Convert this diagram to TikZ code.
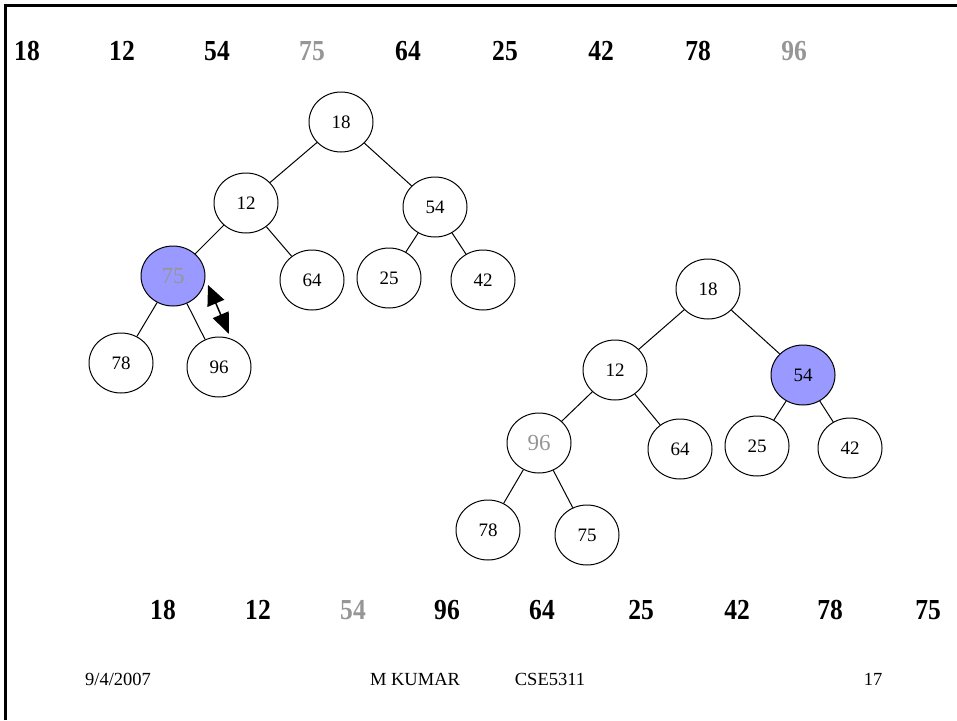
\documentclass[tikz,border=0pt]{standalone}
\usepackage{fontspec}
\setmainfont{Liberation Serif}
\newfontfamily\cellfont[FakeStretch=0.88]{Liberation Serif}
\usetikzlibrary{shapes.geometric,arrows.meta}

\definecolor{heapblue}{RGB}{153,153,255}
\definecolor{movedgray}{RGB}{150,150,150}

\tikzset{
  key/.style={ellipse, draw, line width=1pt, minimum width=64pt, minimum height=60pt,
    inner sep=0pt, font=\fontsize{19}{19}\selectfont},
  moved/.style={text=movedgray, font=\fontsize{23}{23}\selectfont},
  hot/.style={fill=heapblue},
  cell/.style={anchor=base, font=\fontsize{29}{29}\cellfont\bfseries},
  foot/.style={anchor=base, font=\fontsize{18.5}{18.5}\selectfont}
}

\begin{document}
\begin{tikzpicture}[x=1pt, y=-1pt, line width=1pt]
  \useasboundingbox (0,0) rectangle (957,720);
  \draw[line width=3pt] (5.5,720) -- (5.5,5.5) -- (957,5.5);

  % array before the swap
  \node[cell] (a1) at (27,60) {18};
  \node[cell] (a2) at (122,60) {12};
  \node[cell] (a3) at (217,60) {54};
  \node[cell, text=movedgray] (a4) at (312,60) {75};
  \node[cell] (a5) at (408,60) {64};
  \node[cell] (a6) at (505,60) {25};
  \node[cell] (a7) at (601,60) {42};
  \node[cell] (a8) at (698,60) {78};
  \node[cell, text=movedgray] (a9) at (794,60) {96};

  % first tree
  \node[key] (t18) at (341,122) {18};
  \node[key] (t12) at (246,203) {12};
  \node[key] (t54) at (435,207) {54};
  \node[key, hot, moved] (t75) at (173,276) {75};
  \node[key] (t64) at (312,280) {64};
  \node[key] (t25) at (389,278) {25};
  \node[key] (t42) at (483,280) {42};
  \node[key] (t78) at (121,363) {78};
  \node[key] (t96) at (219,367) {96};
  \path
  (t18) edge (t12)
        edge (t54)
  (t12) edge (t75)
        edge (t64)
  (t54) edge (t25)
        edge (t42)
  (t75) edge (t78)
        edge (t96);

  \coordinate (swapup) at (208,285);
  \coordinate (swapdn) at (229,334);
  \draw[line width=1.5pt, {Triangle[length=20pt,width=18pt]}-{Triangle[length=21pt,width=17pt]}]
    (swapup) -- (swapdn);

  % second tree
  \node[key] (u18) at (708,289) {18};
  \node[key] (u12) at (615,370) {12};
  \node[key, hot] (u54) at (803,375) {54};
  \node[key, moved] (u96) at (539,443) {96};
  \node[key] (u64) at (680,449) {64};
  \node[key] (u25) at (757,446) {25};
  \node[key] (u42) at (850,448) {42};
  \node[key] (u78) at (488,530) {78};
  \node[key] (u75) at (587,535) {75};
  \path
  (u18) edge (u12)
        edge (u54)
  (u12) edge (u96)
        edge (u64)
  (u54) edge (u25)
        edge (u42)
  (u96) edge (u78)
        edge (u75);

  % array after the swap
  \node[cell] (b1) at (163,619) {18};
  \node[cell] (b2) at (258,619) {12};
  \node[cell, text=movedgray] (b3) at (353,619) {54};
  \node[cell] (b4) at (447,619) {96};
  \node[cell] (b5) at (542,619) {64};
  \node[cell] (b6) at (641,619) {25};
  \node[cell] (b7) at (737,619) {42};
  \node[cell] (b8) at (830,619) {78};
  \node[cell] (b9) at (928,619) {75};

  % footer
  \node[foot] (date) at (118,685) {9/4/2007};
  \node[foot] (name) at (415,685) {M KUMAR};
  \node[foot] (course) at (550,685) {CSE5311};
  \node[foot] (page) at (873,685) {17};
\end{tikzpicture}
\end{document}
